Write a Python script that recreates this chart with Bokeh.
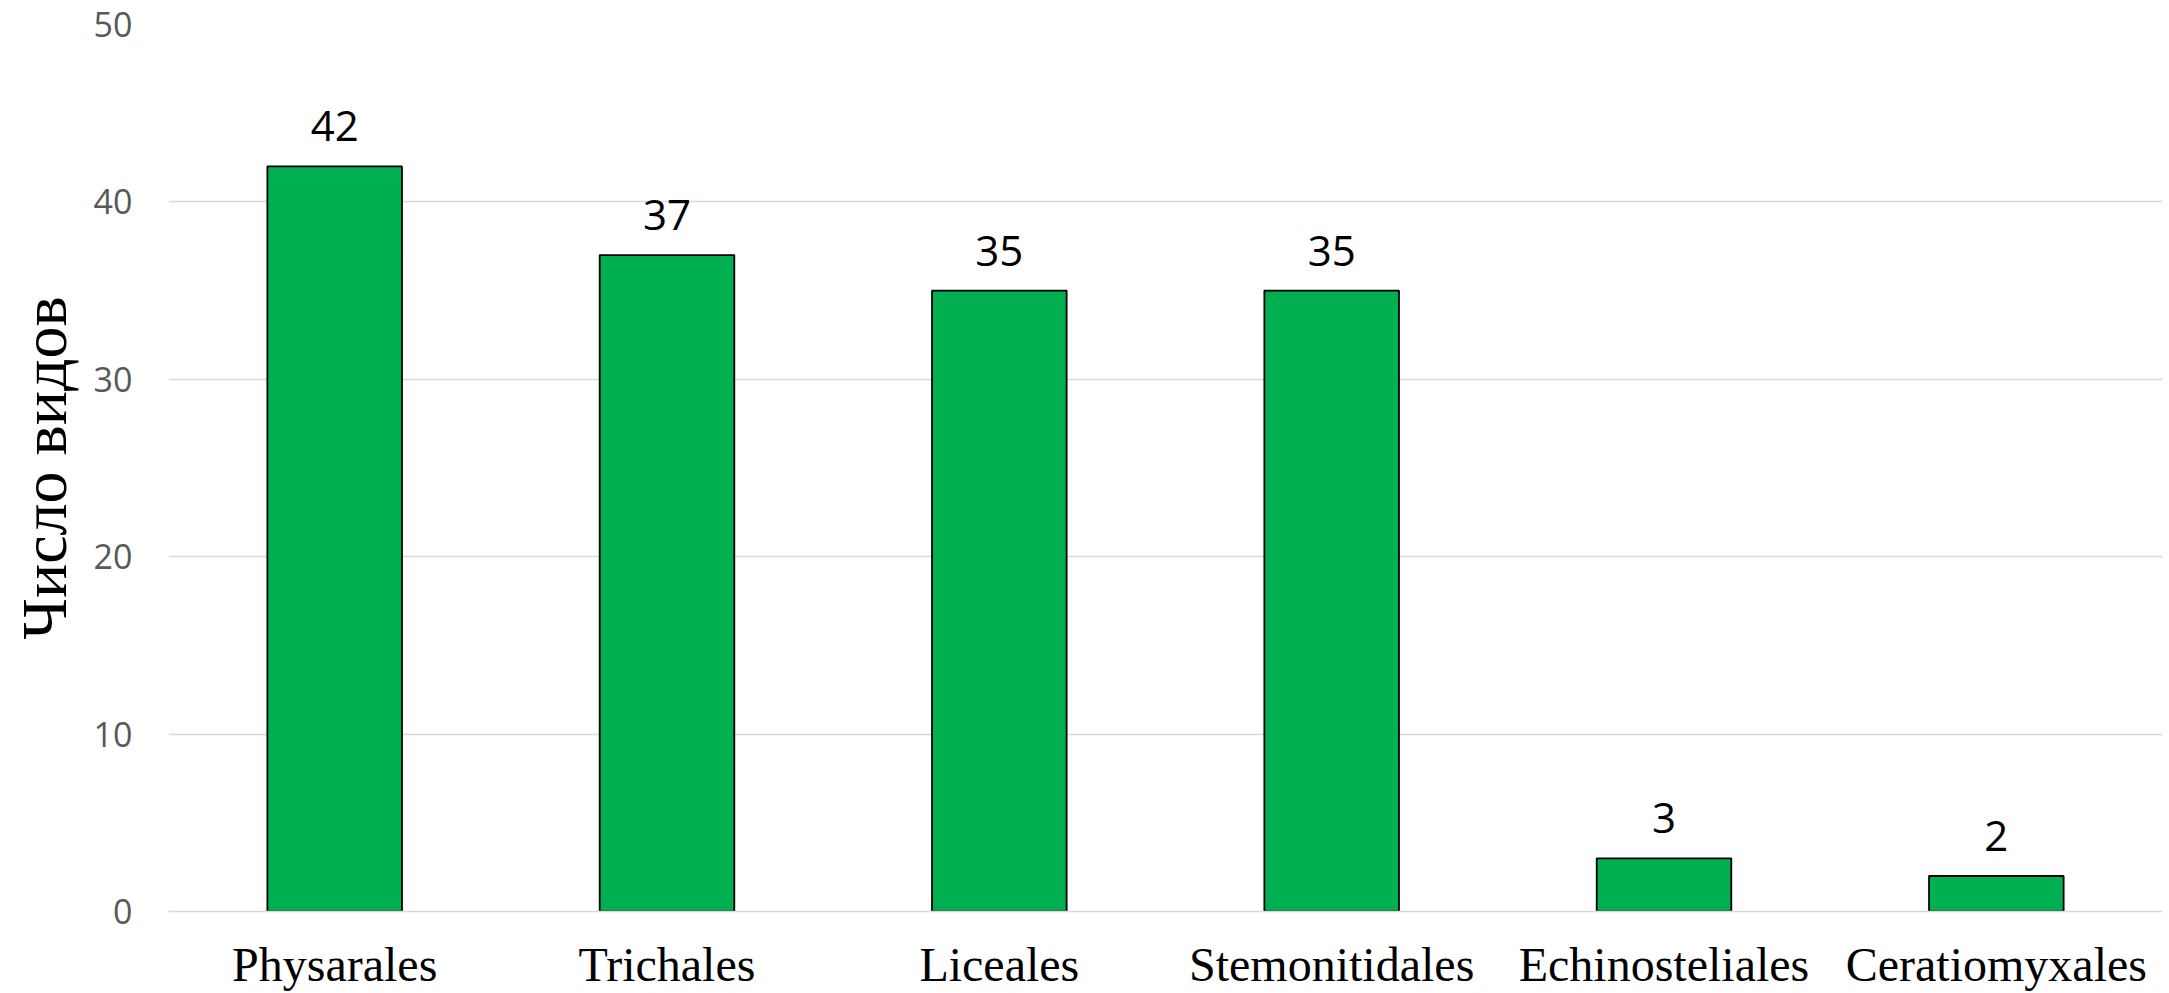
from bokeh.plotting import figure
from bokeh.models import ColumnDataSource, LabelSet, Range1d, FixedTicker
from bokeh.core.properties import value
from bokeh.embed import file_html
from bokeh.resources import INLINE

categories = ["Physarales", "Trichales", "Liceales", "Stemonitidales", "Echinosteliales", "Ceratiomyxales"]
values = [42, 37, 35, 35, 3, 2]
y_ticks = [0, 10, 20, 30, 40, 50]
y_title = "Число видов"

src = ColumnDataSource(dict(cat=categories, val=values, lab=[str(v) for v in values]))

p = figure(x_range=categories, y_range=Range1d(0, 50), width=2169, height=993,
           output_backend="svg", toolbar_location=None,
           min_border_left=168, min_border_right=7, min_border_top=24, min_border_bottom=0)
p.outline_line_color = None
p.background_fill_color = "white"
p.border_fill_color = "white"

p.vbar(x="cat", top="val", bottom=0, width=0.405, source=src,
       fill_color="#00B050", line_color="black", line_width=1.8)

labels = LabelSet(x="cat", y="val", text="lab", source=src, y_offset=25,
                  text_align="center", text_baseline="bottom",
                  text_font=value("Open Sans"), text_font_size=value("42px"), text_color="black")
p.add_layout(labels)

p.xgrid.grid_line_color = None
p.ygrid.grid_line_color = "#D9D9D9"
p.ygrid.grid_line_width = 1.5
p.yaxis.ticker = FixedTicker(ticks=y_ticks)

p.yaxis.axis_line_color = None
p.yaxis.major_tick_line_color = None
p.yaxis.minor_tick_line_color = None
p.yaxis.major_tick_out = 0
p.yaxis.major_label_standoff = 36
p.yaxis.major_label_text_font = "Open Sans"
p.yaxis.major_label_text_font_size = "34px"
p.yaxis.major_label_text_color = "#595959"
p.yaxis.axis_label = y_title
p.yaxis.axis_label_text_font = "Liberation Serif"
p.yaxis.axis_label_text_font_size = "64px"
p.yaxis.axis_label_text_font_style = "normal"
p.yaxis.axis_label_text_color = "black"
p.yaxis.axis_label_standoff = 11

p.xaxis.axis_line_color = "#D9D9D9"
p.xaxis.axis_line_width = 1.5
p.xaxis.major_tick_line_color = None
p.xaxis.minor_tick_line_color = None
p.xaxis.major_tick_out = 0
p.xaxis.major_label_standoff = 26
p.xaxis.major_label_text_font = "Liberation Serif"
p.xaxis.major_label_text_font_size = "48px"
p.xaxis.major_label_text_color = "black"

open("out.html", "w").write(file_html(p, INLINE))
